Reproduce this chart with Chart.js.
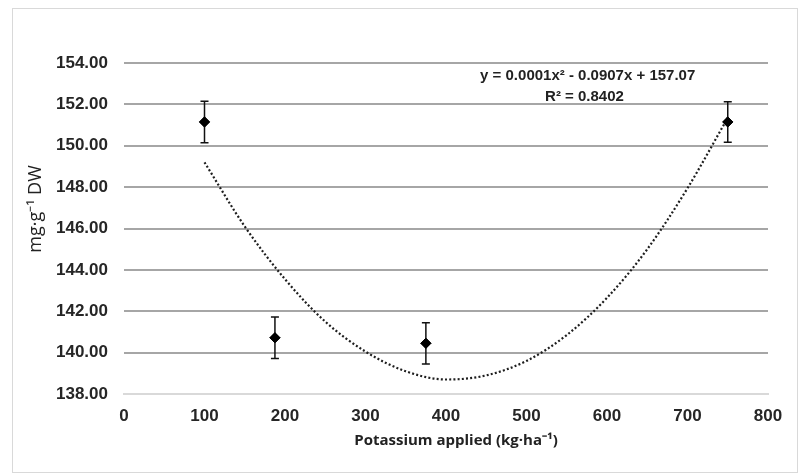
<!DOCTYPE html>
<html>
<head>
<meta charset="utf-8">
<script src="https://cdn.jsdelivr.net/npm/chart.js@4/dist/chart.umd.min.js"></script>
<style>
  html, body { margin: 0; padding: 0; background: #fff; }
  #wrap { width: 804px; height: 475px; position: relative; }
</style>
</head>
<body>
<div id="wrap"><canvas id="chart" width="804" height="475"></canvas></div>
<script>
// measured points (mean ± error)
const potassium = [100, 187.5, 375, 750];
const content = [151.15, 140.72, 140.45, 151.15];
const errors = [1.0, 1.0, 1.0, 0.98];

// dotted polynomial trendline
const trendX = [100, 150, 200, 250, 300, 350, 400, 450, 500, 550, 600, 650, 700, 750];
const trendY = [149.2, 146.1, 143.55, 141.5, 140.05, 139.1, 138.7, 138.9, 139.6, 140.85, 142.65, 145.0, 147.95, 151.35];

const yTicks = [138, 140, 142, 144, 146, 148, 150, 152, 154];
const xTitle = 'Potassium applied (kg·ha⁻¹)';
const yTitle = 'mg·g⁻¹ DW';
const equation = 'y = 0.0001x² - 0.0907x + 157.07';
const rSquared = 'R² = 0.8402';

const tickFont = { family: '"Liberation Sans Narrow", "Liberation Sans", sans-serif', size: 17, weight: 'bold' };

const errorBars = {
    id: 'errorBars',
    afterDatasetsDraw(chart) {
        const { ctx, scales: { x, y } } = chart;
        ctx.save();
        ctx.strokeStyle = '#111';
        ctx.lineWidth = 1.5;
        potassium.forEach((k, i) => {
            const px = x.getPixelForValue(k);
            const top = y.getPixelForValue(content[i] + errors[i]);
            const bot = y.getPixelForValue(content[i] - errors[i]);
            ctx.beginPath();
            ctx.moveTo(px, top); ctx.lineTo(px, bot);
            ctx.moveTo(px - 4, top); ctx.lineTo(px + 4, top);
            ctx.moveTo(px - 4, bot); ctx.lineTo(px + 4, bot);
            ctx.stroke();
        });
        // markers back on top of the bars
        chart.getDatasetMeta(1).data.forEach(pt => pt.draw(ctx, chart.chartArea));
        ctx.restore();
    }
};

const frameAndText = {
    id: 'frameAndText',
    beforeDraw(chart) {
        const ctx = chart.ctx;
        ctx.save();
        ctx.fillStyle = '#fff';
        ctx.fillRect(0, 0, chart.width, chart.height);
        ctx.strokeStyle = '#d9d9d9';
        ctx.lineWidth = 1;
        ctx.strokeRect(12.5, 8.5, 785, 464);
        ctx.restore();
    },
    afterDraw(chart) {
        const { ctx, scales: { x, y } } = chart;
        ctx.save();
        ctx.fillStyle = '#222';
        ctx.textAlign = 'center';
        ctx.textBaseline = 'middle';
        // trendline equation
        ctx.font = 'bold 15px "Liberation Sans Narrow", sans-serif';
        ctx.fillText(equation, x.getPixelForValue(576), y.getPixelForValue(153.4));
        ctx.fillText(rSquared, x.getPixelForValue(572), y.getPixelForValue(152.35));
        // axis titles
        ctx.font = 'bold 15px "Open Sans", sans-serif';
        ctx.fillText(xTitle, 456, 441);
        ctx.translate(36, 209);
        ctx.rotate(-Math.PI / 2);
        ctx.font = '18px "Open Sans", sans-serif';
        ctx.fillText(yTitle, 0, 0);
        ctx.restore();
    }
};

new Chart(document.getElementById('chart').getContext('2d'), {
    type: 'scatter',
    data: {
        datasets: [
            {
                type: 'line',
                label: 'trend',
                data: trendX.map((v, i) => ({ x: v, y: trendY[i] })),
                borderColor: '#1e1e1e',
                borderWidth: 2.2,
                borderDash: [2, 2.2],
                pointRadius: 0,
                cubicInterpolationMode: 'monotone',
                fill: false,
                order: 2
            },
            {
                label: 'content',
                data: potassium.map((v, i) => ({ x: v, y: content[i] })),
                pointStyle: 'rectRot',
                pointRadius: 5,
                backgroundColor: '#000',
                borderColor: '#000',
                borderWidth: 1,
                order: 1
            }
        ]
    },
    options: {
        responsive: false,
        animation: false,
        layout: { padding: { left: 0, right: 36, top: 63, bottom: 0 } },
        plugins: { legend: { display: false }, tooltip: { enabled: false } },
        scales: {
            x: {
                type: 'linear', min: 0, max: 800,
                afterFit: s => { s.height = 81; },
                ticks: { stepSize: 100, color: '#262626', font: tickFont, padding: 12, maxRotation: 0 },
                grid: { display: false, drawTicks: false },
                border: { display: true, color: '#d9d9d9', width: 2 }
            },
            y: {
                min: 138, max: 154,
                afterFit: s => { s.width = 124; },
                afterBuildTicks: s => { s.ticks = yTicks.map(v => ({ value: v })); },
                ticks: { color: '#262626', font: tickFont, padding: 16, callback: v => Number(v).toFixed(2) },
                grid: { color: c => c.tick && c.tick.value === 138 ? '#d9d9d9' : '#a6a6a6', lineWidth: 2, drawTicks: false },
                border: { display: false }
            }
        }
    },
    plugins: [frameAndText, errorBars]
});
</script>
</body>
</html>
